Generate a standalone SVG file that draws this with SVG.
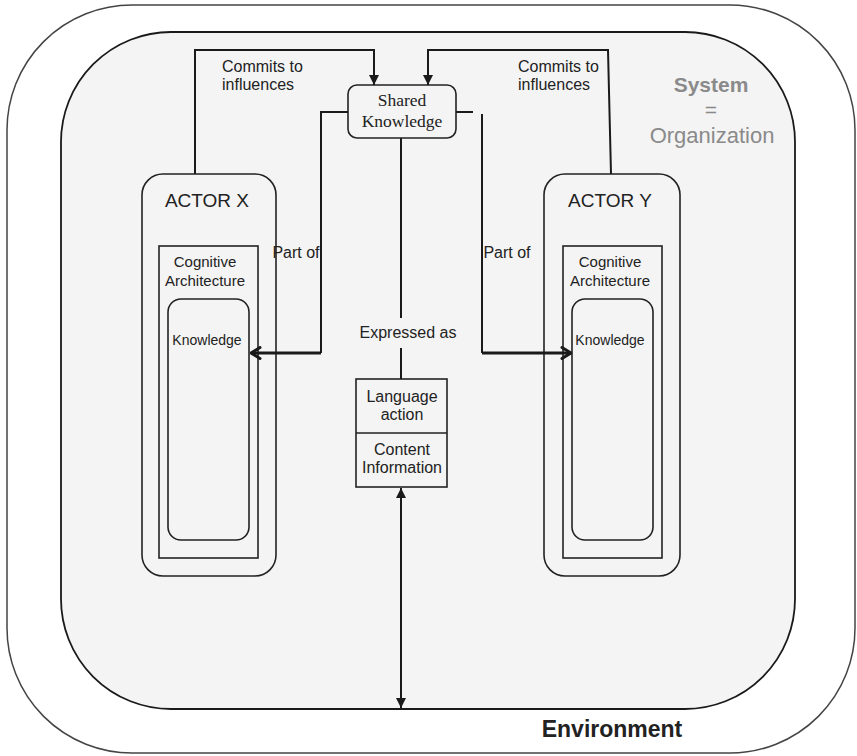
<svg xmlns="http://www.w3.org/2000/svg" width="857" height="756" viewBox="0 0 857 756">
  <style>
    .sans { font-family: "Liberation Sans", Arial, sans-serif; fill: #222; }
    .serif { font-family: "Liberation Serif", "Times New Roman", serif; fill: #222; }
    .box { fill: none; stroke: #222; stroke-width: 1.6; }
    .conn { fill: none; stroke: #1a1a1a; stroke-width: 2; }
    .thick { fill: none; stroke: #1a1a1a; stroke-width: 3; }
    .sys { font-family: "Liberation Sans", Arial, sans-serif; fill: #8a8a8a; }
  </style>
  <defs>
    <marker id="tri" viewBox="0 0 10 10" refX="10" refY="5" markerWidth="10" markerHeight="10" markerUnits="userSpaceOnUse" orient="auto-start-reverse">
      <path d="M0,0 L10,5 L0,10 Z" fill="#1a1a1a"/>
    </marker>
    <marker id="chev" viewBox="0 0 12 14" refX="11" refY="7" markerWidth="12" markerHeight="14" markerUnits="userSpaceOnUse" orient="auto">
      <path d="M2,1.5 L11,7 L2,12.5" fill="none" stroke="#1a1a1a" stroke-width="3" stroke-linecap="round" stroke-linejoin="round"/>
    </marker>
  </defs>

  <!-- environment -->
  <g id="environment">
    <rect x="7" y="5" width="848" height="748" rx="125" ry="125" fill="#fff" stroke="#444" stroke-width="1.5"/>
    <text class="sans" x="612" y="737" font-size="23" font-weight="bold" text-anchor="middle" fill="#333">Environment</text>
  </g>

  <!-- organization system -->
  <g id="system">
    <rect x="61" y="32" width="734" height="677" rx="110" ry="110" fill="#f4f4f4" stroke="#1a1a1a" stroke-width="1.8"/>
    <text class="sys" x="711" y="92" font-size="21" font-weight="bold" text-anchor="middle">System</text>
    <text class="sys" x="711" y="117" font-size="21" text-anchor="middle">=</text>
    <text class="sys" x="712" y="143" font-size="22" text-anchor="middle">Organization</text>
  </g>

  <!-- shared knowledge -->
  <g id="shared-knowledge">
    <rect x="348" y="85" width="108" height="53" rx="9" ry="9" class="box"/>
    <text class="serif" x="402" y="106" font-size="17.5" text-anchor="middle">Shared</text>
    <text class="serif" x="402" y="127" font-size="17.5" text-anchor="middle">Knowledge</text>
  </g>

  <!-- actor X -->
  <g id="actor-x">
    <rect x="142" y="174" width="134" height="402" rx="21" ry="21" class="box"/>
    <text class="sans" x="207" y="207" font-size="19" text-anchor="middle">ACTOR X</text>
    <rect x="159" y="246" width="99" height="312" class="box"/>
    <text class="sans" x="205" y="267" font-size="15" text-anchor="middle">Cognitive</text>
    <text class="sans" x="205" y="286" font-size="15" text-anchor="middle">Architecture</text>
    <rect x="168" y="299" width="81" height="241" rx="13" ry="13" class="box"/>
    <text class="sans" x="207" y="345" font-size="14" text-anchor="middle">Knowledge</text>
  </g>

  <!-- actor Y -->
  <g id="actor-y">
    <rect x="544" y="174" width="136" height="402" rx="21" ry="21" class="box"/>
    <text class="sans" x="610" y="207" font-size="19" text-anchor="middle">ACTOR Y</text>
    <rect x="563" y="246" width="99" height="312" class="box"/>
    <text class="sans" x="610" y="267" font-size="15" text-anchor="middle">Cognitive</text>
    <text class="sans" x="610" y="286" font-size="15" text-anchor="middle">Architecture</text>
    <rect x="572" y="299" width="81" height="241" rx="13" ry="13" class="box"/>
    <text class="sans" x="610" y="345" font-size="14" text-anchor="middle">Knowledge</text>
  </g>

  <!-- language action / content information -->
  <g id="language-action">
    <rect x="356" y="379" width="91" height="108" class="box"/>
    <line x1="356" y1="433" x2="447" y2="433" stroke="#222" stroke-width="1.6"/>
    <text class="sans" x="402" y="402" font-size="16" text-anchor="middle">Language</text>
    <text class="sans" x="402" y="420" font-size="16" text-anchor="middle">action</text>
    <text class="sans" x="402" y="455" font-size="16" text-anchor="middle">Content</text>
    <text class="sans" x="402" y="473" font-size="16" text-anchor="middle">Information</text>
  </g>

  <!-- connectors -->
  <g id="connectors">
    <path class="conn" d="M195,174 V50 H374 V85" stroke-width="2.4" marker-end="url(#tri)"/>
    <path class="conn" d="M611,174 L608,50 H428 V85" stroke-width="2.4" marker-end="url(#tri)"/>
    <path class="conn" d="M348,112 H321 V353"/>
    <path class="thick" d="M321,353 H251" marker-end="url(#chev)"/>
    <path class="conn" d="M456,112 H473"/>
    <path class="conn" d="M482,114 V353"/>
    <path class="thick" d="M482,353 H571" marker-end="url(#chev)"/>
    <path class="conn" d="M401,138 V318"/>
    <path class="conn" d="M401,348 V379"/>
    <path class="conn" d="M401,488 V708" stroke-width="2.6" marker-start="url(#tri)" marker-end="url(#tri)"/>
    <text class="sans" x="222" y="72" font-size="16">Commits to</text>
    <text class="sans" x="222" y="90" font-size="16">influences</text>
    <text class="sans" x="518" y="72" font-size="16">Commits to</text>
    <text class="sans" x="518" y="90" font-size="16">influences</text>
    <text class="sans" x="296" y="258" font-size="16" text-anchor="middle">Part of</text>
    <text class="sans" x="507" y="258" font-size="16" text-anchor="middle">Part of</text>
    <text class="sans" x="408" y="338" font-size="16" text-anchor="middle">Expressed as</text>
  </g>
</svg>
